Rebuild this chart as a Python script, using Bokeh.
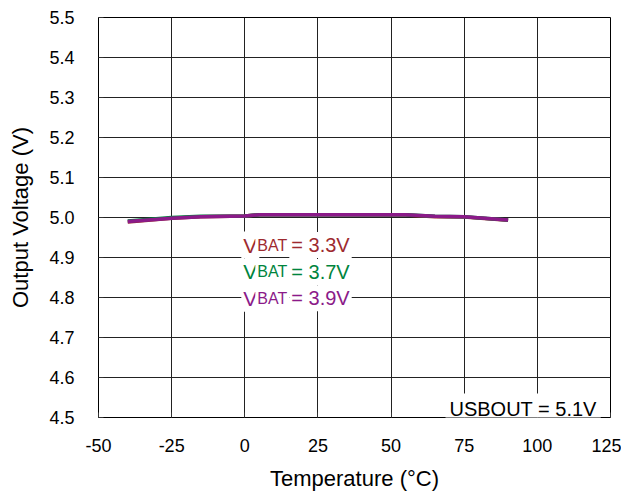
from bokeh.plotting import figure
from bokeh.models import Label, FixedTicker, PrintfTickFormatter, Range1d
from bokeh.embed import file_html
from bokeh.resources import INLINE

# ---- data ----
temps = [-40, -25, -15, 0, 5, 25, 55, 65, 75, 90]
v_33 = [4.989, 4.998, 5.002, 5.004, 5.007, 5.007, 5.006, 5.002, 5.001, 4.993]
v_37 = [4.991, 5.000, 5.003, 5.004, 5.007, 5.007, 5.007, 5.003, 5.002, 4.994]
v_39 = [4.990, 4.998, 5.002, 5.004, 5.007, 5.007, 5.007, 5.003, 5.002, 4.994]
series_names = ["3.3V", "3.7V", "3.9V"]
series_colors = ["#9E2A2F", "#00843D", "#8B1A89"]
x_ticks = [-50, -25, 0, 25, 50, 75, 100, 125]
y_ticks = [4.5, 4.6, 4.7, 4.8, 4.9, 5.0, 5.1, 5.2, 5.3, 5.4, 5.5]
label_x = -0.5
label_y = [4.931, 4.864, 4.798]

FONT = "Liberation Sans"

p = figure(width=621, height=495, output_backend="svg", toolbar_location=None,
           x_range=Range1d(-50, 125), y_range=Range1d(4.5, 5.5),
           min_border_left=98, min_border_right=11, min_border_top=17,
           min_border_bottom=78)

p.outline_line_color = "black"
p.outline_line_width = 1

for ax in (p.xaxis[0], p.yaxis[0]):
    ax.axis_line_color = None
    ax.major_tick_in = 5
    ax.major_tick_out = 0
    ax.minor_tick_line_color = None
    ax.major_tick_line_color = "#333333"
    ax.major_label_text_font = FONT
    ax.major_label_text_font_size = "18px"
    ax.major_label_text_color = "black"
    ax.axis_label_text_font = FONT
    ax.axis_label_text_font_size = "22px"
    ax.axis_label_text_font_style = "normal"
    ax.axis_label_text_color = "black"

p.xaxis.ticker = FixedTicker(ticks=x_ticks)
p.yaxis.ticker = FixedTicker(ticks=y_ticks)
p.xaxis.formatter = PrintfTickFormatter(format="%d")
p.yaxis.formatter = PrintfTickFormatter(format="%.1f")
p.xaxis.axis_label = "Temperature (°C)"
p.yaxis.axis_label = "Output Voltage (V)"
p.xaxis.major_label_standoff = 21
p.yaxis.major_label_standoff = 24
p.xaxis.axis_label_standoff = 11
p.yaxis.axis_label_standoff = 13

p.xgrid.ticker = FixedTicker(ticks=x_ticks)
p.ygrid.ticker = FixedTicker(ticks=y_ticks)
for g in (p.xgrid[0], p.ygrid[0]):
    g.grid_line_color = "#222222"
    g.grid_line_width = 1

for vals, c in zip([v_33, v_37, v_39], series_colors):
    p.line(temps, vals, line_color=c, line_width=3.5)

for name, c, y in zip(series_names, series_colors, label_y):
    common = dict(x=label_x, y=y, text_color=c, text_font=FONT,
                  text_baseline="alphabetic", background_fill_color="white",
                  padding=2)
    p.add_layout(Label(text="V", text_font_size="21px", x_offset=-2, **common))
    p.add_layout(Label(text="BAT", text_font_size="16px", x_offset=12, **common))
    p.add_layout(Label(text="= " + name, text_font_size="20px", x_offset=46, **common))

p.add_layout(Label(x=68.6, y=4.5225, text="USBOUT = 5.1V", text_font=FONT,
                   text_font_size="20px", text_color="black",
                   text_baseline="alphabetic", background_fill_color="white",
                   padding=4))

open("out.html", "w").write(file_html(p, INLINE))
